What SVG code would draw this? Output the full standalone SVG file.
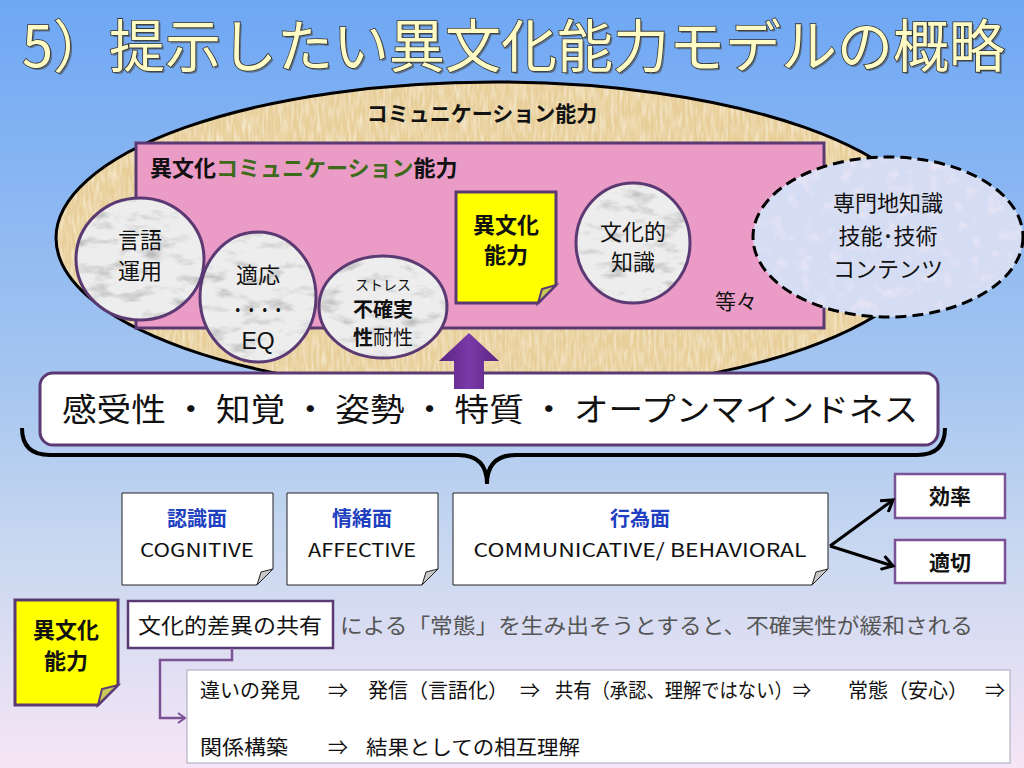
<svg xmlns="http://www.w3.org/2000/svg" width="1024" height="768" viewBox="0 0 1024 768">
<defs>
  <linearGradient id="bg" x1="0" y1="0" x2="0" y2="1">
    <stop offset="0" stop-color="#6ea7f4"/>
    <stop offset="0.5" stop-color="#a6c6f0"/>
    <stop offset="0.72" stop-color="#c9d8f0"/>
    <stop offset="1" stop-color="#f6e5f6"/>
  </linearGradient>
  <linearGradient id="arrowGrad" x1="0" y1="0" x2="1" y2="0">
    <stop offset="0" stop-color="#5a2483"/>
    <stop offset="0.5" stop-color="#7a3aa8"/>
    <stop offset="1" stop-color="#5a2483"/>
  </linearGradient>
  <filter id="marble" x="0" y="0" width="1" height="1">
    <feTurbulence type="fractalNoise" baseFrequency="0.035 0.08" numOctaves="4" seed="7" result="n"/>
    <feColorMatrix in="n" type="matrix" values="0 0 0 0 0.5  0 0 0 0 0.5  0 0 0 0 0.5  3 0 0 0 -1.55" result="v"/>
    <feComposite in="v" in2="SourceGraphic" operator="in" result="vc"/>
    <feMerge><feMergeNode in="SourceGraphic"/><feMergeNode in="vc"/></feMerge>
  </filter>
  <filter id="parch" x="0" y="0" width="1" height="1">
    <feTurbulence type="fractalNoise" baseFrequency="0.35 0.06" numOctaves="2" seed="3" result="n"/>
    <feColorMatrix in="n" type="matrix" values="0 0 0 0 0.97  0 0 0 0 0.9  0 0 0 0 0.74  1.3 0 0 0 -0.5" result="v"/>
    <feComposite in="v" in2="SourceGraphic" operator="in" result="vc"/>
    <feMerge><feMergeNode in="SourceGraphic"/><feMergeNode in="vc"/></feMerge>
  </filter>
  <filter id="pastel" x="0" y="0" width="1" height="1">
    <feTurbulence type="fractalNoise" baseFrequency="0.07" numOctaves="3" seed="11" result="n"/>
    <feColorMatrix in="n" type="matrix" values="0 0 0 0 0.9  0 0 0 0 0.82  0 0 0 0 0.94  1.6 0 0 0 -0.8" result="v"/>
    <feComposite in="v" in2="SourceGraphic" operator="in" result="vc"/>
    <feMerge><feMergeNode in="SourceGraphic"/><feMergeNode in="vc"/></feMerge>
  </filter>
  <marker id="blk" markerUnits="userSpaceOnUse" markerWidth="16" markerHeight="16" refX="13" refY="8" orient="auto">
    <path d="M2 1 L13 8 L2 15" fill="none" stroke="#000" stroke-width="3" stroke-linejoin="miter"/>
  </marker>
  <marker id="pur" markerUnits="userSpaceOnUse" markerWidth="12" markerHeight="12" refX="10" refY="6" orient="auto">
    <path d="M3 1 L10 6 L3 11" fill="none" stroke="#7b5296" stroke-width="2"/>
  </marker>
  <style>
    text { font-family: "Noto Sans CJK JP", "Noto Sans", sans-serif; fill: #111; }
    .c { text-anchor: middle; }
    .b { font-weight: bold; }
    .circ { fill: #ededed; filter: url(#marble); }
    .circS { fill: none; stroke: #5b3a73; stroke-width: 3; }
    .note { fill: #ffffff; stroke: #222; stroke-width: 1; }
    .fold { fill: #c8c8c8; stroke: #222; stroke-width: 1; }
    .ynote { fill: #ffff00; stroke: #5b3a73; stroke-width: 3; }
    .yfold { fill: #c9c95a; stroke: #5b3a73; stroke-width: 2; }
    .pbox { fill: #ffffff; stroke: #7b5296; stroke-width: 2.5; }
    .blue { fill: #2040c0; }
  </style>
</defs>

<rect x="0" y="0" width="1024" height="768" fill="url(#bg)"/>

<g id="title">
  <text x="24" y="68.5" font-size="57" textLength="983" lengthAdjust="spacingAndGlyphs" style="fill:#4a4a4a" opacity="0.6">5）提示したい異文化能力モデルの概略</text>
  <text x="22" y="66.5" font-size="57" textLength="983" lengthAdjust="spacingAndGlyphs" style="fill:#fffbc4;stroke:#333;stroke-width:1.6;paint-order:stroke">5）提示したい異文化能力モデルの概略</text>
</g>

<g id="comm-ellipse">
  <ellipse cx="495" cy="238" rx="439" ry="156" fill="#e8cf9a" filter="url(#parch)"/>
  <ellipse cx="495" cy="238" rx="439" ry="156" fill="none" stroke="#000" stroke-width="3"/>
  <text class="c b" x="482" y="121" font-size="21">コミュニケーション能力</text>
</g>

<g id="icc-rect">
  <rect x="136" y="143" width="688" height="185" fill="#ea9bc6" stroke="#5b3a73" stroke-width="3"/>
  <text class="b" x="150" y="176" font-size="22">異文化<tspan style="fill:#3d6b1a">コミュニケーション</tspan>能力</text>
</g>

<g id="node-gengo">
  <ellipse class="circ" cx="140" cy="259" rx="64" ry="61"/>
  <ellipse class="circS" cx="140" cy="259" rx="64" ry="61"/>
  <text class="c" x="140" y="248" font-size="22">言語</text>
  <text class="c" x="140" y="279" font-size="22">運用</text>
</g>

<g id="node-tekiou">
  <ellipse class="circ" cx="258" cy="297" rx="58" ry="65"/>
  <ellipse class="circS" cx="258" cy="297" rx="58" ry="65"/>
  <text class="c" x="258" y="283" font-size="22">適応</text>
  <text class="c b" x="258" y="316" font-size="16" textLength="54" lengthAdjust="spacingAndGlyphs">・・・・</text>
  <text class="c" x="258" y="349" font-size="23" style="font-family:'Liberation Sans',sans-serif">EQ</text>
</g>

<g id="node-stress">
  <ellipse class="circ" cx="383" cy="307" rx="64" ry="51"/>
  <ellipse class="circS" cx="383" cy="307" rx="64" ry="51"/>
  <text class="c" x="383" y="290" font-size="14">ストレス</text>
  <text class="c b" x="383" y="317" font-size="20">不確実</text>
  <text class="c" x="383" y="345" font-size="20"><tspan class="b">性</tspan>耐性</text>
</g>

<g id="node-ibunka-top">
  <path class="ynote" d="M456 192H556V285L538 303H456Z"/>
  <path class="yfold" d="M538 303L556 285L542 289Z"/>
  <text class="c b" x="506" y="233" font-size="22">異文化</text>
  <text class="c b" x="506" y="263" font-size="22">能力</text>
</g>

<g id="node-bunka">
  <ellipse class="circ" cx="633" cy="243" rx="57" ry="60"/>
  <ellipse class="circS" cx="633" cy="243" rx="57" ry="60"/>
  <text class="c" x="633" y="240" font-size="22">文化的</text>
  <text class="c" x="633" y="270" font-size="22">知識</text>
</g>

<g id="label-toutou">
  <text class="c" x="736" y="309" font-size="21">等々</text>
</g>

<g id="node-senmon">
  <ellipse cx="888" cy="237" rx="135" ry="80" fill="#d4ddf3" filter="url(#pastel)"/>
  <ellipse cx="888" cy="237" rx="135" ry="80" fill="none" stroke="#000" stroke-width="3" stroke-dasharray="11 6"/>
  <text class="c" x="888" y="211" font-size="22">専門地知識</text>
  <text class="c" x="888" y="244" font-size="22">技能･技術</text>
  <text class="c" x="888" y="277" font-size="22">コンテンツ</text>
</g>

<g id="node-kanjusei">
  <rect x="40" y="373" width="898" height="72" rx="13" ry="13" fill="#ffffff" stroke="#5b3a73" stroke-width="3"/>
  <text x="62" y="421" font-size="32" textLength="856" lengthAdjust="spacingAndGlyphs">感受性 ・ 知覚 ・ 姿勢 ・ 特質 ・ オープンマインドネス</text>
</g>

<g id="node-ninshiki">
  <path class="note" d="M122 493H273V569L257 585H122Z"/>
  <path class="fold" d="M257 585L273 569L261 572Z"/>
  <text class="c b blue" x="197" y="526" font-size="20">認識面</text>
  <text class="c" x="197" y="557" font-size="19" textLength="114" lengthAdjust="spacingAndGlyphs">COGNITIVE</text>
</g>

<g id="node-jocho">
  <path class="note" d="M287 493H438V569L422 585H287Z"/>
  <path class="fold" d="M422 585L438 569L426 572Z"/>
  <text class="c b blue" x="362" y="526" font-size="20">情緒面</text>
  <text class="c" x="362" y="557" font-size="19" textLength="108" lengthAdjust="spacingAndGlyphs">AFFECTIVE</text>
</g>

<g id="node-koui">
  <path class="note" d="M453 493H828V569L812 585H453Z"/>
  <path class="fold" d="M812 585L828 569L816 572Z"/>
  <text class="c b blue" x="640" y="526" font-size="20">行為面</text>
  <text class="c" x="640" y="557" font-size="19" textLength="333" lengthAdjust="spacingAndGlyphs">COMMUNICATIVE/ BEHAVIORAL</text>
</g>

<g id="node-kouritsu">
  <rect class="pbox" x="895" y="474" width="110" height="44"/>
  <text class="c b" x="950" y="504" font-size="21">効率</text>
</g>

<g id="node-tekisetsu">
  <rect class="pbox" x="895" y="540" width="110" height="43"/>
  <text class="c b" x="950" y="570" font-size="21">適切</text>
</g>

<g id="node-ibunka-bottom">
  <path class="ynote" d="M15 600H118V685L98 705H15Z"/>
  <path class="yfold" d="M98 705L118 685L102 689Z"/>
  <text class="c b" x="66" y="638" font-size="22">異文化</text>
  <text class="c b" x="66" y="669" font-size="22">能力</text>
</g>

<g id="node-kyouyu">
  <rect class="pbox" x="128" y="601" width="205" height="47" style="stroke:#5b3a73"/>
  <text x="138" y="633" font-size="21" textLength="184" lengthAdjust="spacingAndGlyphs">文化的差異の共有</text>
  <text x="340" y="633" font-size="21" textLength="633" lengthAdjust="spacingAndGlyphs" style="fill:#555">による「常態」を生み出そうとすると、不確実性が緩和される</text>
</g>

<g id="node-process">
  <rect x="187" y="670" width="823" height="93" fill="#ffffff" stroke="#a8a8b8" stroke-width="1"/>
  <text y="698" font-size="20">
    <tspan x="200">違いの発見</tspan>
    <tspan x="328">⇒</tspan>
    <tspan x="368">発信（言語化）</tspan>
    <tspan x="520">⇒</tspan>
    <tspan x="555" textLength="256" lengthAdjust="spacingAndGlyphs">共有（承認、理解ではない）⇒</tspan>
    <tspan x="848">常態（安心）</tspan>
    <tspan x="985">⇒</tspan>
  </text>
  <text y="755" font-size="20">
    <tspan x="200" textLength="88" lengthAdjust="spacingAndGlyphs">関係構築</tspan>
    <tspan x="328">⇒</tspan>
    <tspan x="366" textLength="214" lengthAdjust="spacingAndGlyphs">結果としての相互理解</tspan>
  </text>
</g>

<g id="connectors">
  <path d="M469 333 L499 361 L484 361 L484 389 L454 389 L454 361 L439 361 Z" fill="url(#arrowGrad)"/>
  <path d="M22 428 Q22 455 50 455 H458 Q487 455 487 484 Q487 455 516 455 H917 Q945 455 945 428" fill="none" stroke="#000" stroke-width="4"/>
  <line x1="830" y1="546" x2="893" y2="500" stroke="#000" stroke-width="3" marker-end="url(#blk)"/>
  <line x1="830" y1="546" x2="893" y2="566" stroke="#000" stroke-width="3" marker-end="url(#blk)"/>
  <path d="M232 648 V660 H160 V718 H185" fill="none" stroke="#7b5296" stroke-width="2.5" marker-end="url(#pur)"/>
</g>
</svg>
